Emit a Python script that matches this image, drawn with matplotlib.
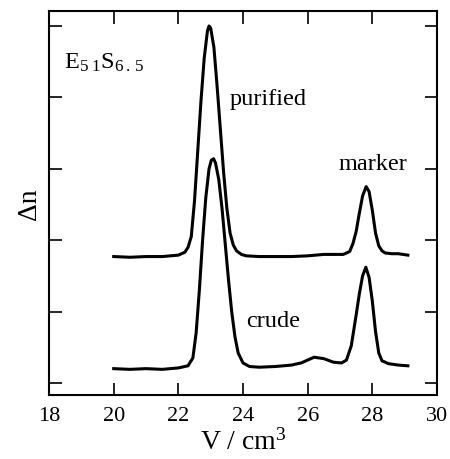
import matplotlib
matplotlib.use("Agg")
import matplotlib.pyplot as plt

plt.rcParams['font.family'] = ['Liberation Serif', 'DejaVu Serif']
plt.rcParams['mathtext.fontset'] = 'custom'
plt.rcParams['mathtext.rm'] = 'Liberation Serif'
plt.rcParams['mathtext.it'] = 'Liberation Serif'

# elution volume (cm3) and detector signal (arbitrary units, one unit per y tick)
purified_v = [20.0, 20.5, 21.0, 21.5, 22.0, 22.2, 22.3, 22.4, 22.5, 22.6, 22.7,
              22.8, 22.9, 22.95, 23.0, 23.1, 23.2, 23.3, 23.4, 23.5, 23.6, 23.7,
              23.8, 23.95, 24.1, 24.5, 25.0, 25.5, 26.0, 26.5, 26.8, 27.1, 27.3,
              27.4, 27.5, 27.6, 27.7, 27.81, 27.9, 28.0, 28.1, 28.2, 28.3, 28.4,
              28.6, 28.8, 29.1]
purified_s = [1.77, 1.76, 1.77, 1.77, 1.79, 1.83, 1.90, 2.05, 2.55, 3.25, 3.95,
              4.55, 4.93, 5.00, 4.97, 4.70, 4.15, 3.55, 2.95, 2.45, 2.10, 1.93,
              1.85, 1.80, 1.78, 1.77, 1.77, 1.77, 1.78, 1.80, 1.80, 1.80, 1.84,
              1.95, 2.12, 2.38, 2.62, 2.75, 2.68, 2.42, 2.10, 1.92, 1.85, 1.82,
              1.81, 1.81, 1.79]

crude_v = [20.0, 20.5, 21.0, 21.5, 22.0, 22.3, 22.45, 22.55, 22.65, 22.75, 22.85,
           22.95, 23.02, 23.09, 23.15, 23.25, 23.35, 23.45, 23.55, 23.65, 23.75,
           23.85, 24.0, 24.2, 24.5, 25.0, 25.5, 25.8, 26.0, 26.2, 26.5, 26.8,
           27.05, 27.2, 27.35, 27.5, 27.6, 27.7, 27.8, 27.9, 28.0, 28.1, 28.2,
           28.3, 28.5, 28.8, 29.1]
crude_s = [0.20, 0.19, 0.20, 0.19, 0.21, 0.24, 0.35, 0.70, 1.30, 2.00, 2.60,
           3.00, 3.12, 3.14, 3.08, 2.85, 2.45, 1.95, 1.45, 1.00, 0.65,
           0.42, 0.28, 0.23, 0.22, 0.23, 0.25, 0.28, 0.32, 0.36, 0.34, 0.29,
           0.28, 0.32, 0.52, 0.95, 1.25, 1.50, 1.62, 1.48, 1.15, 0.72, 0.42,
           0.31, 0.27, 0.25, 0.24]

x_ticks = [18, 20, 22, 24, 26, 28, 30]
y_ticks = [0, 1, 2, 3, 4, 5]

fig = plt.figure(figsize=(4.5, 4.6), dpi=100)
ax = fig.add_axes([0.109, 0.139, 0.862, 0.835])

ax.plot(purified_v, purified_s, color='black', lw=2.2)
ax.plot(crude_v, crude_s, color='black', lw=2.2)

ax.set_xlim(18, 30)
ax.set_ylim(-0.17, 5.21)
ax.set_xticks(x_ticks)
ax.set_yticks(y_ticks)
ax.set_yticklabels([])
ax.tick_params(direction='in', top=True, right=True, length=9, width=1.2,
               labelsize=16, pad=8)
for sp in ax.spines.values():
    sp.set_linewidth(1.5)

ax.set_xlabel('V / cm$^3$', fontsize=20, labelpad=2)
ax.set_ylabel('Δn', fontsize=20, labelpad=-3)

ax.text(18.45, 4.5, 'E$_{5\\ 1}$S$_{6\\,.\\,5}$', fontsize=17.5, va='center')
ax.text(23.6, 3.98, 'purified', fontsize=17.5, va='center')
ax.text(26.95, 3.07, 'marker', fontsize=17.5, va='center')
ax.text(24.1, 0.87, 'crude', fontsize=17.5, va='center')

fig.savefig('out.png', dpi=100)
